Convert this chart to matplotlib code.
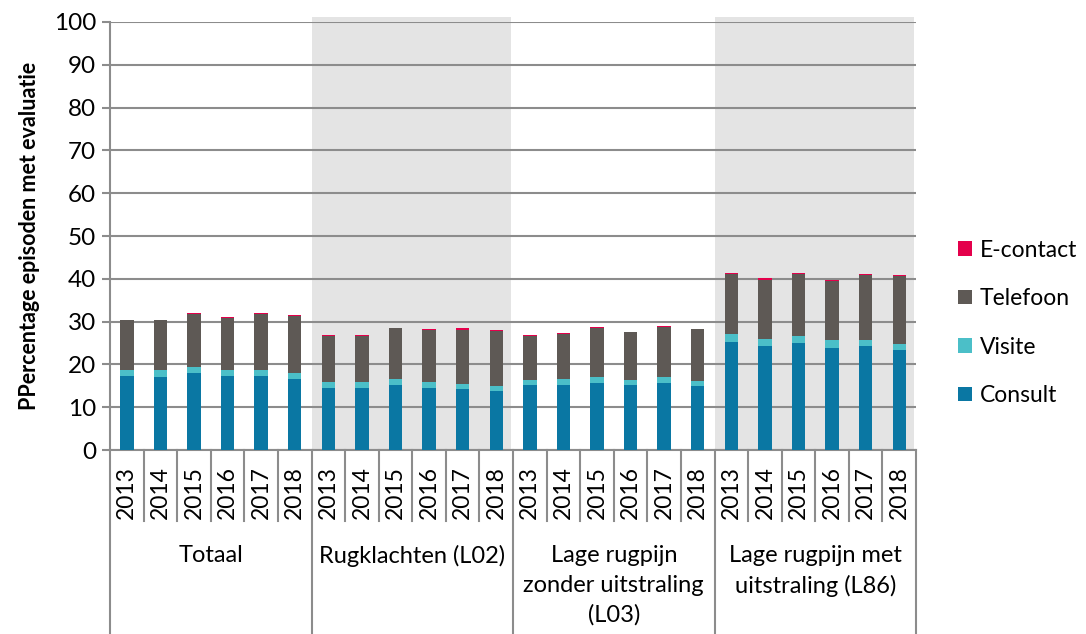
import numpy as np
import matplotlib
matplotlib.use("Agg")
import matplotlib.pyplot as plt
from matplotlib.lines import Line2D

plt.rcParams['font.family'] = ['Lato', 'DejaVu Sans']

# categories
groups = ["Totaal", "Rugklachten (L02)", "Lage rugpijn\nzonder uitstraling\n(L03)",
          "Lage rugpijn met\nuitstraling (L86)"]
years = ["2013", "2014", "2015", "2016", "2017", "2018"]

# segment values per bar (Totaal, L02, L03, L86 x 2013..2018)
consult = [17.3, 17.1, 18.0, 17.3, 17.3, 16.7,
           14.5, 14.5, 15.3, 14.6, 14.3, 13.8,
           15.2, 15.2, 15.7, 15.2, 15.7, 15.0,
           25.3, 24.2, 25.1, 23.9, 24.2, 23.4]
visite = [1.5, 1.5, 1.5, 1.4, 1.4, 1.3,
          1.3, 1.3, 1.4, 1.2, 1.2, 1.1,
          1.2, 1.3, 1.4, 1.1, 1.3, 1.2,
          1.8, 1.7, 1.6, 1.7, 1.5, 1.4]
telefoon = [11.5, 11.7, 12.3, 12.1, 13.1, 13.2,
            10.9, 10.9, 11.7, 12.3, 12.6, 12.9,
            10.3, 10.7, 11.5, 11.2, 11.8, 12.0,
            14.0, 13.9, 14.5, 13.9, 15.2, 15.8]
econtact = [0.1, 0.1, 0.15, 0.25, 0.15, 0.3,
            0.2, 0.2, 0.1, 0.2, 0.4, 0.2,
            0.2, 0.2, 0.2, 0.1, 0.1, 0.1,
            0.15, 0.3, 0.2, 0.2, 0.3, 0.3]

series = [("Consult", consult, "#0a77a3"),
          ("Visite", visite, "#4bbfc8"),
          ("Telefoon", telefoon, "#5e5955"),
          ("E-contact", econtact, "#e4004b")]

grid_col = "#8c8c8c"
fs = 17.5

fig = plt.figure(figsize=(10.86, 6.34), dpi=100)
ax = fig.add_axes([0.1013, 0.2902, 0.7422, 0.6751])

n = len(consult)
x = np.arange(n)
ng = len(years)

# shaded groups
for g in (1, 3):
    ax.axvspan(g * ng - 0.5, (g + 1) * ng - 0.56, ymin=0, ymax=1.012,
               color="#e4e4e4", zorder=0, clip_on=False, lw=0)

ax.set_ylim(0, 100)
ax.set_xlim(-0.5, n - 0.5)
ax.set_yticks(range(0, 101, 10))
ax.yaxis.grid(True, color=grid_col, lw=1.5, zorder=1)
ax.set_axisbelow(True)

bottom = np.zeros(n)
handles = []
for name, vals, col in series:
    b = ax.bar(x, vals, width=0.4, bottom=bottom, color=col, zorder=3, label=name)
    bottom += np.array(vals)
    handles.append(b)

for s in ("top", "right"):
    ax.spines[s].set_visible(False)
for s in ("left", "bottom"):
    ax.spines[s].set_color(grid_col)
    ax.spines[s].set_linewidth(1.5)

ax.tick_params(axis="y", length=6, width=1.5, color=grid_col, labelsize=fs, pad=4)
ax.set_xticks([])
ax.set_ylabel("PPercentage episoden met evaluatie", fontsize=15.5, fontweight="bold",
              labelpad=10)

# category axis: years and groups
trans = ax.get_xaxis_transform()
for i in range(n):
    ax.text(x[i], -0.099, years[i % ng], rotation=90, ha="center", va="center",
            fontsize=16.5, transform=trans)
for k in range(n + 1):
    is_group = k % ng == 0
    y_end = -0.43 if is_group else -0.166
    ax.add_line(Line2D([k - 0.5, k - 0.5], [0, y_end], transform=trans,
                       color=grid_col, lw=1.5, clip_on=False))
for g, name in enumerate(groups):
    ax.text(g * ng + (ng - 1) / 2, -0.222, name, ha="center", va="top",
            fontsize=17, transform=trans, linespacing=1.5)

leg = ax.legend(handles[::-1], [s[0] for s in series][::-1], loc="center left",
                bbox_to_anchor=(1.052, 0.297), frameon=False, fontsize=16.5,
                borderaxespad=0, borderpad=0,
                handlelength=0.6, handleheight=0.6, handletextpad=0.35,
                labelspacing=1.2)

fig.savefig("out.png", dpi=100)
